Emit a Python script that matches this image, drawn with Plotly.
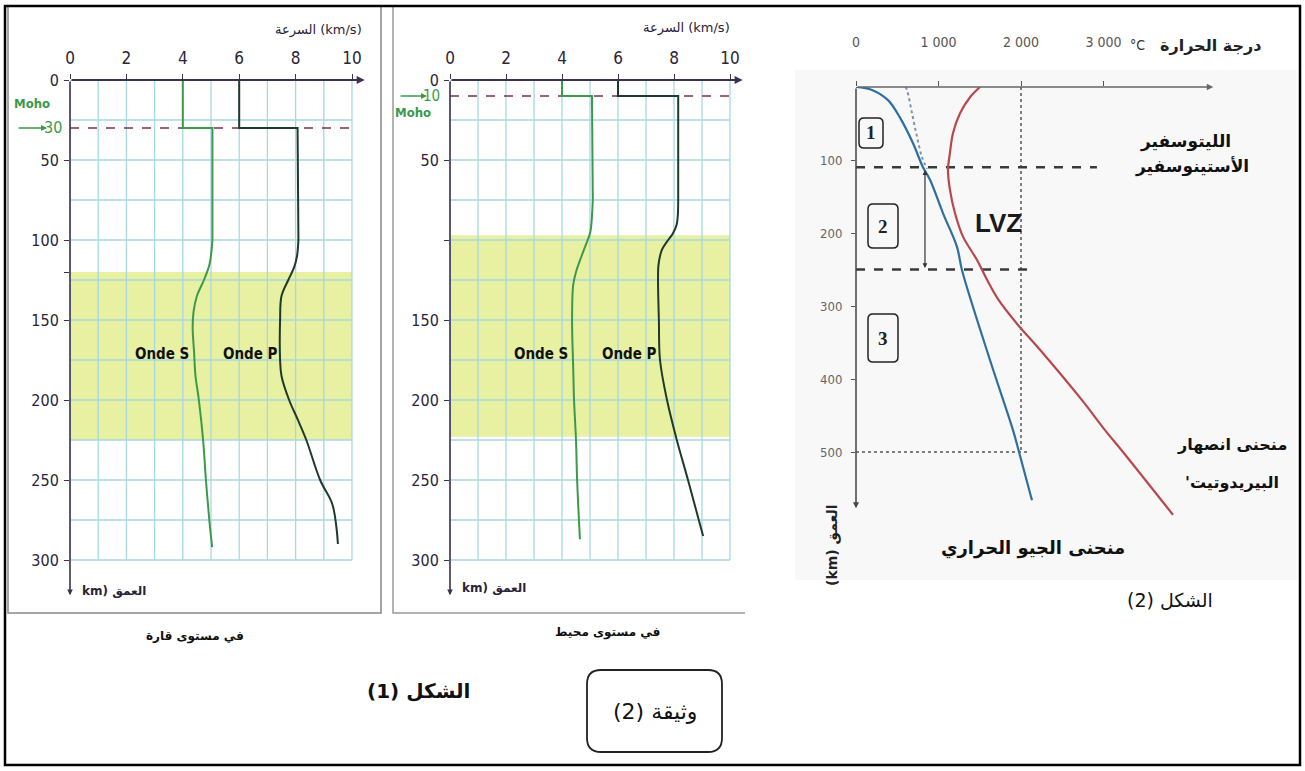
import plotly.graph_objects as go

W, H = 1305, 771

# ---- data: velocity profiles (km/s vs depth km) ----
VEL_TICKS = [0, 2, 4, 6, 8, 10]
GRID_V = list(range(0, 11))
GRID_D = list(range(0, 301, 25))

# crust + Moho step (straight), then mantle part (smooth)
cont_s_step_v = [4.0, 4.0, 5.05, 5.05]
cont_s_step_d = [0, 30, 30, 100]
cont_s_v = [5.05, 4.95, 4.75, 4.5, 4.38, 4.35, 4.4, 4.45, 4.57, 4.72, 4.82, 4.94, 5.04]
cont_s_d = [100, 115, 125, 135, 145, 155, 170, 185, 200, 225, 250, 275, 292]
cont_p_step_v = [6.0, 6.0, 8.07, 8.1]
cont_p_step_d = [0, 30, 30, 100]
cont_p_v = [8.1, 8.05, 7.95, 7.74, 7.5, 7.45, 7.45, 7.5, 7.77, 8.07, 8.38, 8.87, 9.3, 9.45, 9.5]
cont_p_d = [100, 110, 117, 125, 135, 150, 175, 185, 200, 212, 225, 250, 265, 280, 290]
cont_moho = 30
cont_lvz = [120, 225]
cont_dticks = [0, 50, 100, 120, 150, 200, 250, 300]
cont_dtext = ["0", "50", "100", "", "150", "200", "250", "300"]

ocean_s_step_v = [4.0, 4.0, 5.07, 5.1]
ocean_s_step_d = [0, 10, 10, 75]
ocean_s_v = [5.1, 5.05, 5.0, 4.85, 4.7, 4.5, 4.4, 4.36, 4.4, 4.43, 4.5, 4.54, 4.64]
ocean_s_d = [75, 90, 96, 103, 110, 120, 128, 150, 180, 200, 225, 250, 287]
ocean_p_step_v = [6.0, 6.0, 8.15, 8.15]
ocean_p_step_d = [0, 10, 10, 75]
ocean_p_v = [8.15, 8.1, 7.96, 7.75, 7.57, 7.45, 7.43, 7.46, 7.5, 7.75, 8.1, 8.5, 9.04]
ocean_p_d = [75, 90, 96, 101, 106, 115, 125, 150, 175, 200, 225, 250, 285]
ocean_moho = 10
ocean_lvz = [97, 223]
ocean_dticks = [0, 50, 100, 150, 200, 250, 300]
ocean_dtext = ["0", "50", "", "150", "200", "250", "300"]

# ---- data: geotherm / peridotite solidus (°C vs depth km) ----
T_TICKS = [0, 1000, 2000, 3000]
T_TEXT = ["0", "1 000", "2 000", "3 000"]
Z_TICKS = [100, 200, 300, 400, 500]

geo_t = [0, 194, 388, 533, 691, 812, 897, 1055, 1224, 1285, 1624, 1903, 1976, 2133]
geo_z = [0, 4, 18, 42, 77, 110, 127, 173, 219, 251, 374, 470, 500, 566]
sol_t = [1503, 1382, 1261, 1176, 1139, 1115, 1139, 1200, 1297, 1467, 1588, 1730, 1964, 2230, 2739, 3018, 3236, 3842]
sol_z = [0, 14, 36, 63, 90, 114, 141, 173, 205, 237, 264, 292, 326, 360, 429, 470, 500, 586]
dry_t = [600, 618, 679, 739, 800, 861]
dry_z = [0, 4, 36, 68, 96, 112]
lab_z = 110        # lithosphere / asthenosphere
lvz_base = 250
lab_t_end = 2920
lvz_t_end = 2130
ref_t = 2000
ref_z = 500

GREEN = "#3a9a4a"
DARK = "#1f3a2a"
GRID = "#a6d8e0"
YEL = "#e8f0a2"
AR = "DejaVu Sans"
NUM = "Liberation Sans Narrow, DejaVu Sans Condensed, Arial Narrow, sans-serif"


def px(x):
    return x / W


def py(y):
    return 1 - y / H


fig = go.Figure()


def line(xa, ya, x, y, color, width=2, dash="solid", shape="linear"):
    fig.add_trace(go.Scatter(x=x, y=y, mode="lines", xaxis=xa, yaxis=ya, hoverinfo="skip",
                             line=dict(color=color, width=width, dash=dash, shape=shape)))


def vel_panel(xa, ya, s_step, s, p_step, p, moho):
    gx, gy = [], []
    for v in GRID_V:
        gx += [v, v, None]
        gy += [0, 300, None]
    for d in GRID_D:
        gx += [0, 10, None]
        gy += [d, d, None]
    line(xa, ya, gx, gy, GRID, 1.3)
    line(xa, ya, [0, 10], [moho, moho], "#7b3050", 1.6, "dash")
    line(xa, ya, *s_step, GREEN, 2)
    line(xa, ya, *s, GREEN, 2, shape="spline")
    line(xa, ya, *p_step, DARK, 2)
    line(xa, ya, *p, DARK, 2, shape="spline")


vel_panel("x", "y", (cont_s_step_v, cont_s_step_d), (cont_s_v, cont_s_d),
          (cont_p_step_v, cont_p_step_d), (cont_p_v, cont_p_d), cont_moho)
vel_panel("x2", "y2", (ocean_s_step_v, ocean_s_step_d), (ocean_s_v, ocean_s_d),
          (ocean_p_step_v, ocean_p_step_d), (ocean_p_v, ocean_p_d), ocean_moho)

# right panel curves
line("x3", "y3", dry_t, dry_z, "#7a93b0", 2, "dot", "spline")
line("x3", "y3", [ref_t, ref_t], [0, ref_z], "#555", 1.5, "dot")
line("x3", "y3", [0, ref_t + 100], [ref_z, ref_z], "#555", 1.5, "dot")
line("x3", "y3", [0, lab_t_end], [lab_z, lab_z], "#3a3a3a", 2.5, "dash")
line("x3", "y3", [0, lvz_t_end], [lvz_base, lvz_base], "#3a3a3a", 2.5, "dash")
line("x3", "y3", geo_t, geo_z, "#2f6f9f", 2.2, shape="spline")
line("x3", "y3", sol_t, sol_z, "#b8484a", 2.2, shape="spline")

# ---- axes ----
vel_x = dict(range=[0, 10.6], side="top", tickvals=VEL_TICKS, showgrid=False, zeroline=False,
             ticks="outside", ticklen=5, tickcolor="#3d3050", ticklabelstandoff=3, automargin=False,
             tickfont=dict(family=NUM, size=17, color="#2a2438"), showline=False)
vel_y = dict(range=[325, 0], showgrid=False, zeroline=False, ticks="outside", ticklen=5,
             tickcolor="#3d3050", ticklabelstandoff=2, automargin=False,
             tickfont=dict(family=NUM, size=16, color="#2a2438"), showline=False)

fig.update_layout(
    width=W, height=H, margin=dict(l=0, r=0, t=0, b=0, autoexpand=False),
    paper_bgcolor="white", plot_bgcolor="rgba(0,0,0,0)", showlegend=False, hovermode=False,
    xaxis=dict(vel_x, domain=[px(70), px(70 + 10.6 * 28.2)], anchor="y"),
    yaxis=dict(vel_y, domain=[py(80 + 325 * 1.6), py(80)], anchor="x",
               tickvals=cont_dticks, ticktext=cont_dtext),
    xaxis2=dict(vel_x, domain=[px(450), px(450 + 10.6 * 28)], anchor="y2"),
    yaxis2=dict(vel_y, domain=[py(80 + 325 * 1.6), py(80)], anchor="x2",
                tickvals=ocean_dticks, ticktext=ocean_dtext),
    xaxis3=dict(range=[0, 4400], side="top", tickvals=T_TICKS, ticktext=T_TEXT, showgrid=False,
                zeroline=False, ticks="outside", ticklen=5, tickcolor="#555", ticklabelstandoff=28,
                automargin=False, tickfont=dict(family=NUM, size=14, color="#555"),
                domain=[px(856), px(856 + 4400 * 0.0825)], anchor="y3"),
    yaxis3=dict(range=[600, 0], tickvals=Z_TICKS, showgrid=False, zeroline=False, ticks="outside",
                ticklen=4, tickcolor="#555", ticklabelstandoff=6, automargin=False,
                tickfont=dict(family=NUM, size=13, color="#666"),
                domain=[py(87 + 600 * 0.73), py(87)], anchor="x3"),
)

# ---- shapes ----
shapes = []
# right panel soft background
shapes.append(dict(type="rect", xref="paper", yref="paper", x0=px(795), x1=px(1297), y0=py(580), y1=py(70),
                   fillcolor="#f8f8f8", line=dict(width=0), layer="below"))
# yellow LVZ bands
for xa, ya, band in (("x", "y", cont_lvz), ("x2", "y2", ocean_lvz)):
    shapes.append(dict(type="rect", xref=xa, yref=ya, x0=0, x1=10, y0=band[0], y1=band[1],
                       fillcolor=YEL, line=dict(width=0), layer="below"))
# panel frames
shapes.append(dict(type="path", xref="paper", yref="paper",
                   path=f"M{px(8)},{py(6)} L{px(8)},{py(613)} L{px(381)},{py(613)} L{px(381)},{py(6)}",
                   line=dict(color="#888", width=1.5)))
shapes.append(dict(type="path", xref="paper", yref="paper",
                   path=f"M{px(393)},{py(6)} L{px(393)},{py(613)} L{px(745)},{py(613)}",
                   line=dict(color="#999", width=1.5)))
# outer frame
shapes.append(dict(type="rect", xref="paper", yref="paper", x0=px(5), x1=px(1300), y0=py(765), y1=py(6),
                   line=dict(color="black", width=2.5)))


def rrect(x0, y0, x1, y1, r, width=1.5):
    p = (f"M{px(x0 + r)},{py(y0)} L{px(x1 - r)},{py(y0)} Q{px(x1)},{py(y0)} {px(x1)},{py(y0 + r)} "
         f"L{px(x1)},{py(y1 - r)} Q{px(x1)},{py(y1)} {px(x1 - r)},{py(y1)} "
         f"L{px(x0 + r)},{py(y1)} Q{px(x0)},{py(y1)} {px(x0)},{py(y1 - r)} "
         f"L{px(x0)},{py(y0 + r)} Q{px(x0)},{py(y0)} {px(x0 + r)},{py(y0)} Z")
    return dict(type="path", xref="paper", yref="paper", path=p, line=dict(color="#222", width=width))


shapes.append(rrect(587, 670, 722, 752, 14, 1.8))
shapes.append(rrect(859, 118, 883, 148, 5))
shapes.append(rrect(868, 204, 898, 248, 5))
shapes.append(rrect(868, 314, 898, 362, 5))
fig.update_layout(shapes=shapes)

# ---- annotations ----
ann = []


def arrow(xa, ya, x0, y0, x1, y1, color, width=2, head=2, size=1.0, side="end"):
    ann.append(dict(xref=xa, yref=ya, axref=xa, ayref=ya, x=x1, y=y1, ax=x0, ay=y0, text="",
                    showarrow=True, arrowhead=head, arrowsize=size, arrowwidth=width,
                    arrowcolor=color, arrowside=side))


def txt(x, y, s, size=14, color="black", bold=False, family=AR, xanchor="center", angle=0, xref="paper", yref="paper"):
    if bold:
        s = f"<b>{s}</b>"
    if xref == "paper":
        x, y = px(x), py(y)
    ann.append(dict(xref=xref, yref=yref, x=x, y=y, text=s, showarrow=False, xanchor=xanchor,
                    yanchor="middle", textangle=angle, font=dict(family=family, size=size, color=color)))


# velocity panel axis lines with arrows
for xa, ya in (("x", "y"), ("x2", "y2")):
    arrow(xa, ya, 0, 0, 10.45, 0, "#3d3050", width=2, head=2, size=0.8)
    arrow(xa, ya, 0, 0, 0, 322, "#3d3050", width=1.6, head=2, size=0.7)
    txt(3.25, 171, "Onde S", 15, "#111", True, NUM, xref=xa, yref=ya)
    txt(6.4, 171, "Onde P", 15, "#111", True, NUM, xref=xa, yref=ya)

# Moho labels
txt(32, 104, "Moho", 13, GREEN, True, NUM)
txt(64, 128, "30", 16, GREEN, False, NUM, xanchor="right")
ann.append(dict(xref="paper", yref="paper", x=px(47), y=py(128), ax=-30, ay=0, text="", showarrow=True,
                arrowhead=2, arrowsize=0.8, arrowwidth=1.5, arrowcolor=GREEN))
txt(442, 96, "10", 15, GREEN, False, NUM, xanchor="right")
ann.append(dict(xref="paper", yref="paper", x=px(427), y=py(96), ax=-28, ay=0, text="", showarrow=True,
                arrowhead=2, arrowsize=0.8, arrowwidth=1.5, arrowcolor=GREEN))
txt(413, 112, "Moho", 13, GREEN, True, NUM)

txt(318, 30, "السرعة (km/s)", 13, "#2a2438", False, AR)
txt(686, 28, "السرعة (km/s)", 13, "#2a2438", False, AR)
txt(80, 591, "km) العمق", 12, "#2a2438", True, AR, xanchor="left")
txt(460, 588, "km) العمق", 12, "#2a2438", True, AR, xanchor="left")
txt(195, 636, "في مستوى قارة", 12, "#111", True, AR)
txt(607, 632, "في مستوى محيط", 12, "#111", True, AR)
txt(418, 691, "(1) الشكل", 20, "#111", True, AR)
txt(655, 711, "(2) وثيقة", 22, "#111", False, AR)

# right panel
arrow("x3", "y3", 0, 0, 4330, 0, "#666", width=1.6, head=2, size=0.8)
arrow("x3", "y3", 0, 0, 0, 577, "#444", width=1.5, head=2, size=0.8)
arrow("x3", "y3", 836, 112, 836, 248, "#333", width=1.2, head=2, size=0.8, side="end+start")
txt(1137, 45, "°C", 14, "#333", False, NUM)
txt(1210, 45, "درجة الحرارة", 16, "#222", True, AR)
txt(871, 132, "1", 19, "#222", True, "Liberation Serif")
txt(883, 226, "2", 19, "#222", True, "Liberation Serif")
txt(883, 338, "3", 19, "#222", True, "Liberation Serif")
txt(998, 223, "LVZ", 26, "#1a1a1a", True, "Liberation Sans")
txt(1185, 141, "الليتوسفير", 17, "#111", True, AR)
txt(1192, 166, "الأستينوسفير", 17, "#111", True, AR)
txt(1232, 445, "منحنى انصهار", 16, "#111", True, AR)
txt(1232, 482, "'البيريدوتيت", 16, "#111", True, AR)
txt(1033, 548, "منحنى الجيو الحراري", 18, "#111", True, AR)
txt(1170, 600, "(2) الشكل", 19, "#111", False, AR)
txt(832, 545, "(km) العمق", 14, "#222", True, AR, angle=-90)

fig.update_layout(annotations=ann)

# the page's default body margin would shift the figure by 8px
fig.write_html("out.html", config={"displayModeBar": False},
               post_script="document.body.style.margin='0';")
